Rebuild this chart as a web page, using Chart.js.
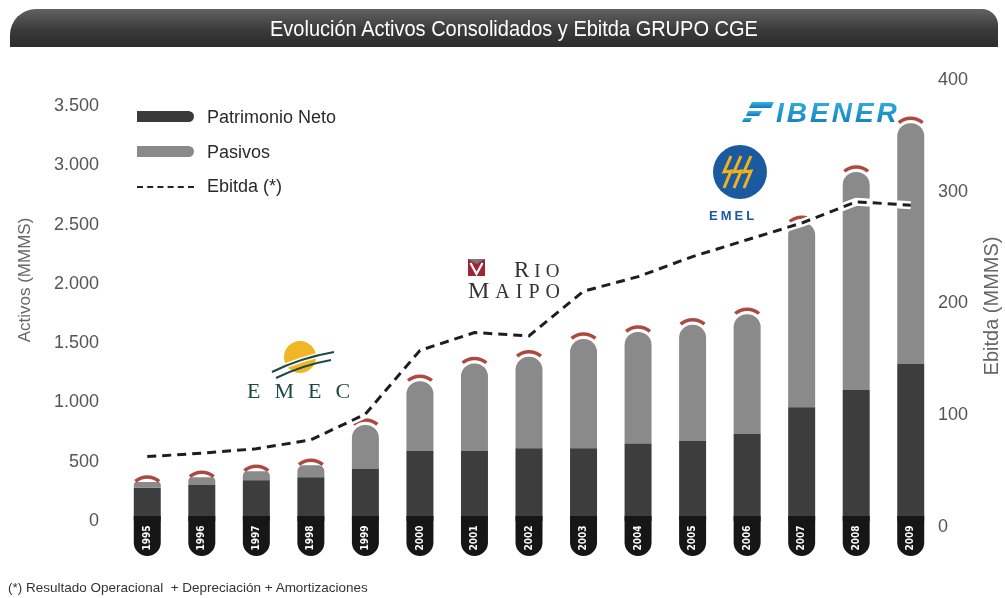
<!DOCTYPE html>
<html lang="es">
<head>
    <meta charset="UTF-8">
    <title>Evolución Activos Consolidados y Ebitda GRUPO CGE</title>
    <script src="https://cdn.jsdelivr.net/npm/chart.js@4.4.0/dist/chart.umd.min.js"></script>
    <style>
        body { margin: 0; background: #fff; }
        #wrap { position: relative; width: 1005px; height: 598px; overflow: hidden; font-family: "Liberation Sans", Arial, sans-serif; }
        #myChart { position: absolute; left: 0; top: 0; }
        #titlebar { position: absolute; left: 10px; top: 9px; width: 988px; height: 38px; border-radius: 26px 16px 0 0;
            background: linear-gradient(#626262, #3a3a3a 55%, #2c2c2c); }
        #titlebar span { position: absolute; left: 260px; top: 7px; color: #fff; white-space: nowrap;
            font-family: "Liberation Sans", Arial, sans-serif; font-size: 22px; transform-origin: 0 50%; }
        .lg { position: absolute; left: 137px; height: 22px; line-height: 22px; font-size: 18px; color: #2a2a2a; }
        .lg i { display: inline-block; width: 57px; height: 11px; border-radius: 0 6px 6px 0; vertical-align: middle; margin: -3px 13px 0 0; }
        .lg b { display: inline-block; width: 57px; height: 0; border-top: 2.5px dashed #222; vertical-align: middle; margin: 0 13px 0 0; }
        #logos { position: absolute; left: 0; top: 0; }
        #note { position: absolute; left: 8px; top: 580px; font-size: 13px; color: #333; white-space: nowrap;
            font-family: "Liberation Sans", Arial, sans-serif; transform-origin: 0 50%; }
    </style>
</head>
<body>
<div id="wrap">
    <canvas id="myChart" width="1005" height="598"></canvas>
    <div id="titlebar"><span id="ttl">Evolución Activos Consolidados y Ebitda GRUPO CGE</span></div>

    <div class="lg" style="top:106px"><i style="background:#3a3a3a"></i>Patrimonio Neto</div>
    <div class="lg" style="top:141px"><i style="background:#8a8a8a"></i>Pasivos</div>
    <div class="lg" style="top:175px"><b></b>Ebitda (*)</div>

    <svg id="logos" width="1005" height="598">
        <!-- EMEC -->
        <circle cx="300" cy="357" r="16" fill="#f0b626"/>
        <path d="M272 372 Q300 358 334 352" stroke="#fff" stroke-width="5" fill="none"/>
        <path d="M272 372 Q300 358 334 352" stroke="#1d4a42" stroke-width="2" fill="none"/>
        <path d="M276 378 Q303 365 331 360" stroke="#1d4a42" stroke-width="2" fill="none"/>
        <text x="247" y="398" font-family="Liberation Serif" font-size="22" letter-spacing="14" fill="#1d4a42">EMEC</text>
        <!-- Rio Maipo -->
        <rect x="468" y="259" width="17" height="17" fill="#9e2436"/>
        <path d="M468 259 L485 259 L476.5 264 Z" fill="#777"/>
        <path d="M470.5 263 L476.5 274 L482.5 263" stroke="#fff" stroke-width="2.2" fill="none"/>
        <text x="514" y="277" font-family="Liberation Serif" font-size="23" letter-spacing="5" fill="#333">R<tspan font-size="19">IO</tspan></text>
        <text x="468" y="298" font-family="Liberation Serif" font-size="24" letter-spacing="6" fill="#333">M<tspan font-size="20">AIPO</tspan></text>
        <!-- EMEL -->
        <circle cx="740" cy="172" r="27" fill="#1b5aa0"/>
        <path d="M731 156 L724 172 L731 171 L724 188" stroke="#f3b21c" stroke-width="3" fill="none"/>
        <path d="M741 156 L734 172 L741 171 L734 188" stroke="#f3b21c" stroke-width="3" fill="none"/>
        <path d="M751 156 L744 172 L751 171 L744 188" stroke="#f3b21c" stroke-width="3" fill="none"/>
        <text x="709" y="220" font-family="Liberation Sans" font-weight="bold" font-size="13" letter-spacing="3" fill="#1b5aa0">EMEL</text>
        <!-- IBENER -->
        <defs>
            <linearGradient id="ib" x1="0" y1="0" x2="0" y2="1">
                <stop offset="0" stop-color="#35b6e6"/><stop offset="1" stop-color="#0f78b8"/>
            </linearGradient>
        </defs>
        <polygon points="752,102 774,102 771,108 749,108" fill="url(#ib)"/>
        <polygon points="748,111 762,111 759,116 746,116" fill="url(#ib)"/>
        <polygon points="744,118 752,118 750,122 742,122" fill="url(#ib)"/>
        <text x="776" y="122" font-family="Liberation Sans" font-weight="bold" font-style="italic" font-size="28" letter-spacing="3" fill="url(#ib)">IBENER</text>
    </svg>

    <div id="note">(*) Resultado Operacional &nbsp;+ Depreciación + Amortizaciones</div>
</div>
<script>
    // datos (MMM$)
    const years = ['1995','1996','1997','1998','1999','2000','2001','2002','2003','2004','2005','2006','2007','2008','2009'];
    const patrimonio = [280, 305, 345, 370, 440, 590, 590, 615, 615, 655, 675, 735, 960, 1105, 1325];
    const pasivos = [50, 65, 75, 100, 370, 590, 740, 770, 920, 940, 980, 1010, 1560, 1840, 2030];
    const ebitda = [63, 66, 70, 78, 101, 158, 174, 171, 211, 224, 242, 257, 272, 291, 288];
    const activosTicks = [0, 500, 1000, 1500, 2000, 2500, 3000, 3500];
    const ebitdaTicks = [0, 100, 200, 300, 400];

    Chart.defaults.font.family = '"Liberation Sans", Arial, sans-serif';

    // texto condensado: se comprime al ancho del original
    function squeeze(id, w) {
        const el = document.getElementById(id);
        el.style.transform = 'scaleX(' + (w / el.offsetWidth) + ')';
    }
    squeeze('ttl', 488);
    squeeze('note', 360);

    function fmt(v) {
        return String(v).replace(/\B(?=(\d{3})+(?!\d))/g, '.');
    }

    // caps rojos, pastillas con el año, halo blanco de la linea y titulos de ejes
    const decor = {
        id: 'decor',
        beforeDatasetDraw(chart, args) {
            if (args.index !== 2) return;
            const c = chart.ctx;
            const bottom = chart.getDatasetMeta(0).data;
            const top = chart.getDatasetMeta(1).data;
            c.save();
            top.forEach((bar, i) => {
                const r = bar.width / 2;
                // arco rojo sobre la barra
                c.beginPath();
                c.arc(bar.x, bar.y + r, r + 5, -Math.PI / 2 - 0.7, -Math.PI / 2 + 0.7);
                c.strokeStyle = '#ad4a40';
                c.lineWidth = 3.5;
                c.stroke();
                // pastilla negra con el año
                const y0 = bottom[i].base - 5, y1 = 556;
                c.beginPath();
                c.roundRect(bar.x - r, y0, bar.width, y1 - y0, [0, 0, r, r]);
                c.fillStyle = '#161616';
                c.fill();
                c.save();
                c.translate(bar.x, (y0 + y1) / 2 + 2);
                c.rotate(-Math.PI / 2);
                c.fillStyle = '#fff';
                c.font = 'bold 10px "DejaVu Sans Condensed", sans-serif';
                c.textAlign = 'center';
                c.textBaseline = 'middle';
                c.fillText(years[i], 0, 0);
                c.restore();
            });
            // halo blanco bajo la linea punteada
            const pts = args.meta.data;
            c.beginPath();
            pts.forEach((p, i) => i ? c.lineTo(p.x, p.y) : c.moveTo(p.x, p.y));
            c.strokeStyle = '#fff';
            c.lineWidth = 8;
            c.lineJoin = 'round';
            c.stroke();
            c.restore();
        },
        afterDraw(chart) {
            const c = chart.ctx;
            c.save();
            c.fillStyle = '#666';
            c.textAlign = 'center';
            c.textBaseline = 'middle';
            c.font = '17px "Liberation Sans", Arial, sans-serif';
            c.translate(25, 280);
            c.rotate(-Math.PI / 2);
            c.fillText('Activos (MMMS)', 0, 0);
            c.restore();
            c.save();
            c.fillStyle = '#666';
            c.textAlign = 'center';
            c.textBaseline = 'middle';
            c.font = '20px "Liberation Sans", Arial, sans-serif';
            c.translate(992, 306);
            c.rotate(-Math.PI / 2);
            c.fillText('Ebitda (MMMS)', 0, 0);
            c.restore();
        }
    };

    const ctx = document.getElementById('myChart').getContext('2d');
    const myChart = new Chart(ctx, {
        type: 'bar',
        data: {
            labels: years,
            datasets: [{
                label: 'Patrimonio Neto',
                data: patrimonio,
                backgroundColor: '#3d3d3d',
                borderRadius: 13,
                borderSkipped: 'start',
                barPercentage: 0.495,
                categoryPercentage: 1,
                yAxisID: 'y',
                order: 1
            }, {
                label: 'Pasivos',
                data: pasivos,
                backgroundColor: '#8a8a8a',
                borderRadius: 13,
                borderSkipped: 'start',
                barPercentage: 0.495,
                categoryPercentage: 1,
                yAxisID: 'y',
                order: 1
            }, {
                type: 'line',
                label: 'Ebitda (*)',
                data: ebitda,
                borderColor: '#1e1e1e',
                borderWidth: 3,
                borderDash: [9, 6],
                pointRadius: 0,
                tension: 0,
                fill: false,
                yAxisID: 'y1',
                order: 0
            }]
        },
        options: {
            responsive: false,
            animation: false,
            layout: { padding: { top: 80, bottom: 71, left: 0, right: 0 } },
            plugins: { legend: { display: false }, tooltip: { enabled: false } },
            scales: {
                x: { display: false, stacked: true },
                y: {
                    stacked: true,
                    min: -50,
                    max: 3720,
                    grid: { display: false, drawTicks: false },
                    border: { display: false },
                    afterBuildTicks: s => { s.ticks = activosTicks.map(v => ({ value: v })); },
                    afterFit: s => { s.width = 120; },
                    ticks: { padding: 21, color: '#555', font: { size: 18 }, callback: v => fmt(v) }
                },
                y1: {
                    position: 'right',
                    min: 0,
                    max: 400,
                    grid: { display: false, drawTicks: false },
                    border: { display: false },
                    afterBuildTicks: s => { s.ticks = ebitdaTicks.map(v => ({ value: v })); },
                    afterFit: s => { s.width = 67; },
                    ticks: { padding: 0, color: '#555', font: { size: 18 } }
                }
            }
        },
        plugins: [decor]
    });
</script>
</body>
</html>
